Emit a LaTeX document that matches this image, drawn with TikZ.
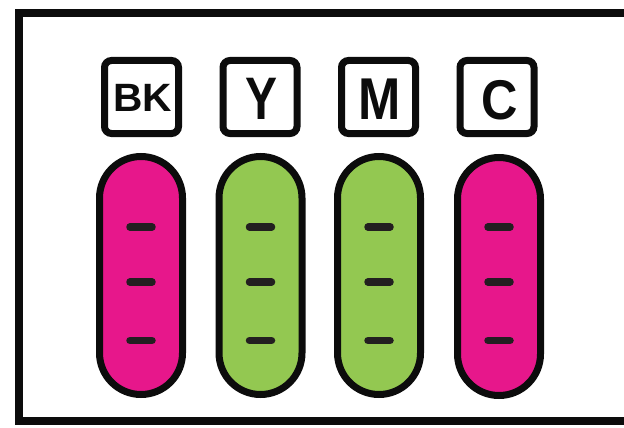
\documentclass[tikz,border=0pt]{standalone}
\usepackage{fontspec}
\usepackage{graphicx}
\setmainfont{Liberation Sans}
\definecolor{inkmag}{HTML}{E7178B}
\definecolor{inkgreen}{HTML}{93C851}
\definecolor{tickgray}{HTML}{231F20}
\definecolor{linek}{HTML}{0C0C0C}
\tikzset{
  labelbox/.style={draw=linek, line width=7pt, rounded corners=7pt, minimum width=74pt, minimum height=73pt, inner sep=0pt, fill=white},
  tank/.style={draw=linek, line width=7pt, rounded corners=41.5pt, minimum width=83pt, minimum height=238pt, inner sep=0pt},
  tick/.style={draw=tickgray, line width=7.5pt, line cap=round},
  frameline/.style={draw=linek, line width=8pt},
  lettr/.style={inner sep=0pt, text=linek}
}
\begin{document}
\begin{tikzpicture}[x=1pt,y=-1pt]
\useasboundingbox (0,0) rectangle (624,428);
\clip (0,0) rectangle (624,428);
\draw[frameline] (19,13.5) rectangle (660,421);
% label boxes
\node[labelbox] (lbk) at (141.5,97) {};
\node[labelbox] (ly) at (260,97) {};
\node[labelbox] (lm) at (378.5,97) {};
\node[labelbox] (lc) at (497,97) {};
\node[lettr, font=\bfseries\fontsize{39.5}{39.5}\selectfont] (tbk) at (142.5,97.5) {\scalebox{1.03}[1]{BK}};
\node[lettr, font=\bfseries\fontsize{60}{60}\selectfont] (ty) at (261.5,98.5) {\scalebox{0.8}[1]{Y}};
\node[lettr, font=\bfseries\fontsize{59}{59}\selectfont] (tm) at (379.8,98.8) {\scalebox{0.86}[1]{M}};
\node[lettr, font=\bfseries\fontsize{56}{56}\selectfont] (tc) at (499.5,100.5) {\scalebox{0.9}[1]{C}};
% tanks
\node[tank, fill=inkmag] (kbk) at (141,275.5) {};
\node[tank, fill=inkgreen] (ky) at (260.5,275.5) {};
\node[tank, fill=inkgreen] (km) at (379,275.5) {};
\node[tank, fill=inkmag] (kc) at (499,276.5) {};
\foreach \n/\cx in {kbk/141,ky/260.5,km/379,kc/499}{
  \foreach \ty in {227,282,340.5}{
    \draw[tick] (\cx-11,\ty) -- (\cx+11,\ty);
  }
}
\end{tikzpicture}
\end{document}
